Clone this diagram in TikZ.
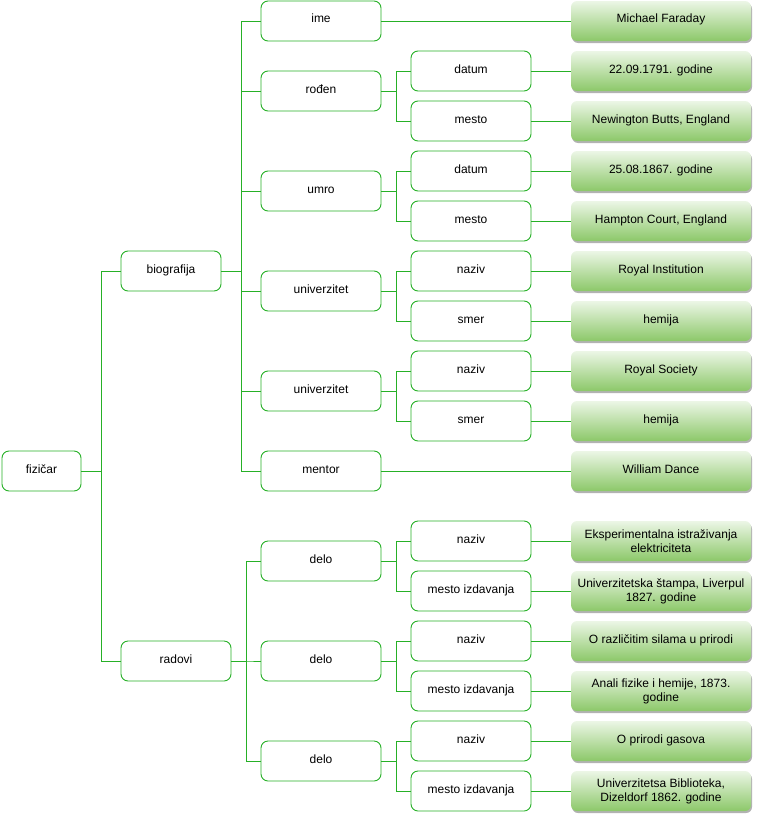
\documentclass[tikz,border=0pt]{standalone}
\usepackage{fontspec}
\setmainfont{Liberation Sans}
\usetikzlibrary{shadows}
\definecolor{linegreen}{RGB}{38,176,38}
\definecolor{leaftop}{RGB}{236,246,230}
\definecolor{leafbot}{RGB}{140,200,105}
\begin{document}
\begin{tikzpicture}[x=1pt,y=-1pt,
  font=\fontsize{12}{15}\selectfont,
  box/.style={draw=linegreen, line width=0.9pt, rounded corners=7pt, fill=white,
    minimum height=40pt, text height=8pt, text depth=4pt, inner sep=0pt, align=center},
  leaf/.style={rounded corners=6pt, minimum width=180pt, minimum height=40pt,
    top color=leaftop, bottom color=leafbot, inner sep=0pt, align=center,
    text height=8pt, text depth=4pt,
    drop shadow={shadow xshift=1pt, shadow yshift=-2pt, opacity=0.3, fill=black}},
  leaftwo/.style={leaf, text height=, text depth=},
  lvltwo/.style={box, minimum width=120pt},
  lvlthree/.style={box, minimum width=120pt},
  conn/.style={draw=linegreen, line width=0.9pt}]
\useasboundingbox (0,0) rectangle (756,819);

% root and first level
\node[box, minimum width=79pt] (fiz) at (41.5,471) {fizičar};
\node[box, minimum width=100pt] (bio) at (171,271) {biografija};
\node[box, minimum width=110pt] (rad) at (176,661) {radovi};

% biografija branch
\node[lvltwo] (ime) at (321,21) {ime};
\node[lvltwo] (roden) at (321,91) {rođen};
\node[lvltwo] (umro) at (321,191) {umro};
\node[lvltwo] (univa) at (321,291) {univerzitet};
\node[lvltwo] (univb) at (321,391) {univerzitet};
\node[lvltwo] (mentor) at (321,471) {mentor};

\node[lvlthree] (rdat) at (471,71) {datum};
\node[lvlthree] (rmes) at (471,121) {mesto};
\node[lvlthree] (udat) at (471,171) {datum};
\node[lvlthree] (umes) at (471,221) {mesto};
\node[lvlthree] (anaz) at (471,271) {naziv};
\node[lvlthree] (asme) at (471,321) {smer};
\node[lvlthree] (bnaz) at (471,371) {naziv};
\node[lvlthree] (bsme) at (471,421) {smer};

% radovi branch
\node[lvltwo] (delo1) at (321,561) {delo};
\node[lvltwo] (delo2) at (321,661) {delo};
\node[lvltwo] (delo3) at (321,761) {delo};

\node[lvlthree] (naz1) at (471,541) {naziv};
\node[lvlthree] (mes1) at (471,591) {mesto izdavanja};
\node[lvlthree] (naz2) at (471,641) {naziv};
\node[lvlthree] (mes2) at (471,691) {mesto izdavanja};
\node[lvlthree] (naz3) at (471,741) {naziv};
\node[lvlthree] (mes3) at (471,791) {mesto izdavanja};

% values
\node[leaf] (vime) at (661,21) {Michael Faraday};
\node[leaf] (vrdat) at (661,71) {22.09.1791. godine};
\node[leaf] (vrmes) at (661,121) {Newington Butts, England};
\node[leaf] (vudat) at (661,171) {25.08.1867. godine};
\node[leaf] (vumes) at (661,221) {Hampton Court, England};
\node[leaf] (vanaz) at (661,271) {Royal Institution};
\node[leaf] (vasme) at (661,321) {hemija};
\node[leaf] (vbnaz) at (661,371) {Royal Society};
\node[leaf] (vbsme) at (661,421) {hemija};
\node[leaf] (vmentor) at (661,471) {William Dance};
\node[leaftwo] (vnaz1) at (661,541) {Eksperimentalna istraživanja\\[-1pt]elektriciteta};
\node[leaftwo] (vmes1) at (661,591) {Univerzitetska štampa, Liverpul\\[-1pt]1827. godine};
\node[leaf] (vnaz2) at (661,641) {O različitim silama u prirodi};
\node[leaftwo] (vmes2) at (661,691) {Anali fizike i hemije, 1873.\\[-1pt]godine};
\node[leaf] (vnaz3) at (661,741) {O prirodi gasova};
\node[leaftwo] (vmes3) at (661,791) {Univerzitetsa Biblioteka,\\[-1pt]Dizeldorf 1862. godine};

% elbow connectors
\foreach \c in {bio,rad} \draw[conn] (fiz.east) -- ++(20,0) |- (\c.west);
\foreach \c in {ime,roden,umro,univa,univb,mentor} \draw[conn] (bio.east) -- ++(20,0) |- (\c.west);
\foreach \c in {delo1,delo2,delo3} \draw[conn] (rad.east) -- ++(15,0) |- (\c.west);
\foreach \p/\a/\b in {roden/rdat/rmes, umro/udat/umes, univa/anaz/asme, univb/bnaz/bsme,
    delo1/naz1/mes1, delo2/naz2/mes2, delo3/naz3/mes3} {
  \draw[conn] (\p.east) -- ++(15,0) |- (\a.west);
  \draw[conn] (\p.east) -- ++(15,0) |- (\b.west);
}

% straight connectors to values
\foreach \a/\b in {ime/vime, mentor/vmentor, rdat/vrdat, rmes/vrmes, udat/vudat, umes/vumes,
    anaz/vanaz, asme/vasme, bnaz/vbnaz, bsme/vbsme, naz1/vnaz1, mes1/vmes1,
    naz2/vnaz2, mes2/vmes2, naz3/vnaz3, mes3/vmes3}
  \draw[conn] (\a.east) -- (\b.west);
\end{tikzpicture}
\end{document}
